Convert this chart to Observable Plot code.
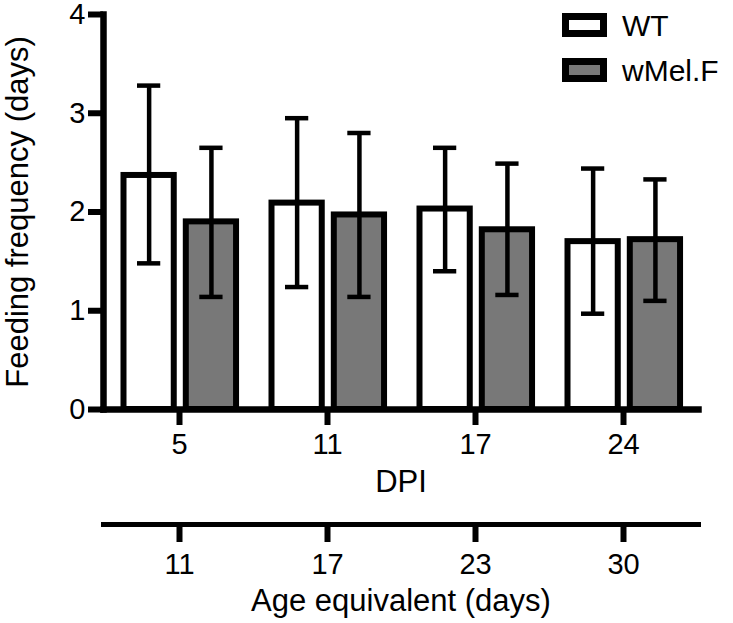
<!DOCTYPE html>
<html>
<head>
<meta charset="utf-8">
<script src="https://cdn.jsdelivr.net/npm/d3@7"></script>
<script src="https://cdn.jsdelivr.net/npm/@observablehq/plot@0.6"></script>
<style>
  html, body { margin: 0; padding: 0; background: #fff; }
  #wrap { position: relative; width: 733px; height: 623px; font-family: "Liberation Sans", Arial, sans-serif; }
  #wrap svg { display: block; }
  #wrap svg [aria-label$="tick label"], #wrap svg [aria-label$="tick label"] text { font-size: 29px !important; }
  .leg-item { position: absolute; left: 562px; height: 24px; }
  .leg-box { position: absolute; left: 0; top: 0; width: 45px; height: 24px; box-sizing: border-box; border: 7px solid #000; }
  .leg-text { position: absolute; left: 60px; top: -2.4px; font-size: 30px; line-height: 30px; white-space: nowrap; color: #000; }
</style>
</head>
<body>
<div id="wrap"></div>
<script>
// ---- data ----
const dpi = ["5", "11", "17", "24"];
const ageEquivalent = ["11", "17", "23", "30"];
const seriesNames = ["WT", "wMel.F"];
const seriesFill = ["#ffffff", "#787878"];
const wtMean = [2.37, 2.09, 2.03, 1.70];
const wtLow  = [1.48, 1.24, 1.40, 0.97];
const wtHigh = [3.28, 2.95, 2.65, 2.44];
const wmMean = [1.90, 1.97, 1.82, 1.72];
const wmLow  = [1.14, 1.14, 1.16, 1.10];
const wmHigh = [2.65, 2.80, 2.49, 2.33];
const yTicks = [0, 1, 2, 3, 4];

const rows = dpi.flatMap((g, i) => [
  {group: g, series: "WT", mean: wtMean[i], lo: wtLow[i], hi: wtHigh[i]},
  {group: g, series: "wMel.F", mean: wmMean[i], lo: wmLow[i], hi: wmHigh[i]}
]);

// ---- layout ----
const W = 733, H1 = 505, H2 = 118;
const mL = 103, mR = 35;
const bw = (W - mL - mR) / dpi.length;      // band width
const centerOff = {"WT": 44 - bw / 2, "wMel.F": 106.3 - bw / 2}; // bar center offset within band
const halfBar = 25.5, halfCap = 12;
const font = '"Liberation Sans", Arial, sans-serif';

const marks = [];
seriesNames.forEach((s, k) => {
  const d = rows.filter(r => r.series === s);
  const c = bw / 2 + centerOff[s];
  marks.push(Plot.barY(d, {
    x: "group", y: "mean", fill: seriesFill[k], stroke: "#000", strokeWidth: 6,
    insetLeft: c - halfBar, insetRight: bw - c - halfBar
  }));
});
seriesNames.forEach((s) => {
  const d = rows.filter(r => r.series === s);
  const c = bw / 2 + centerOff[s];
  marks.push(Plot.ruleX(d, {x: "group", y1: "lo", y2: "hi", dx: centerOff[s], stroke: "#000", strokeWidth: 4.5}));
  marks.push(Plot.tickY(d, {x: "group", y: "lo", stroke: "#000", strokeWidth: 4.5, insetLeft: c - halfCap, insetRight: bw - c - halfCap}));
  marks.push(Plot.tickY(d, {x: "group", y: "hi", stroke: "#000", strokeWidth: 4.5, insetLeft: c - halfCap, insetRight: bw - c - halfCap}));
});
marks.push(Plot.frame({anchor: "left", stroke: "#000", strokeWidth: 6.5}));
marks.push(Plot.frame({anchor: "bottom", stroke: "#000", strokeWidth: 6.5}));
marks.push(Plot.axisY({ticks: yTicks, tickSize: 15, tickPadding: 3, strokeWidth: 6, fontSize: 29, tickFormat: d3.format("d"), label: null, stroke: "#000", fill: "#000"}));
marks.push(Plot.axisX({tickSize: 16, tickPadding: 8, strokeWidth: 6, fontSize: 29, label: null, stroke: "#000", fill: "#000"}));
marks.push(Plot.text(["DPI"], {text: d => d, frameAnchor: "bottom", lineAnchor: "bottom", dy: 82, fontSize: 31, fill: "#000"}));
marks.push(Plot.text(["Feeding frequency (days)"], {text: d => d, frameAnchor: "left", textAnchor: "middle", lineAnchor: "bottom", rotate: -90, dx: -76, fontSize: 31, fill: "#000"}));

const main = Plot.plot({
  width: W, height: H1,
  marginTop: 14, marginBottom: H1 - 409, marginLeft: mL, marginRight: mR,
  style: {fontFamily: font, fontSize: "29px", color: "#000", background: "#fff", overflow: "visible"},
  x: {type: "band", domain: dpi, padding: 0},
  y: {domain: [0, 4]},
  marks
});

const second = Plot.plot({
  width: W, height: H2,
  marginTop: 19, marginBottom: H2 - 19, marginLeft: mL, marginRight: mR,
  style: {fontFamily: font, fontSize: "29px", color: "#000", background: "#fff", overflow: "visible"},
  x: {type: "band", domain: ageEquivalent, padding: 0},
  marks: [
    Plot.frame({anchor: "bottom", stroke: "#000", strokeWidth: 5}),
    Plot.axisX({tickSize: 18, tickPadding: 11, strokeWidth: 6, fontSize: 29, label: null, stroke: "#000", fill: "#000"}),
    Plot.text(["Age equivalent (days)"], {text: d => d, frameAnchor: "bottom", lineAnchor: "bottom", dy: 86, fontSize: 31, fill: "#000"})
  ]
});

const wrap = document.getElementById("wrap");
wrap.appendChild(main);
wrap.appendChild(second);

// legend (HTML, over the top right)
const legTops = [13, 58];
seriesNames.forEach((s, k) => {
  const item = document.createElement("div");
  item.className = "leg-item";
  item.style.top = legTops[k] + "px";
  const box = document.createElement("div");
  box.className = "leg-box";
  box.style.background = seriesFill[k];
  const t = document.createElement("div");
  t.className = "leg-text";
  t.textContent = s;
  item.appendChild(box);
  item.appendChild(t);
  wrap.appendChild(item);
});
</script>
</body>
</html>
